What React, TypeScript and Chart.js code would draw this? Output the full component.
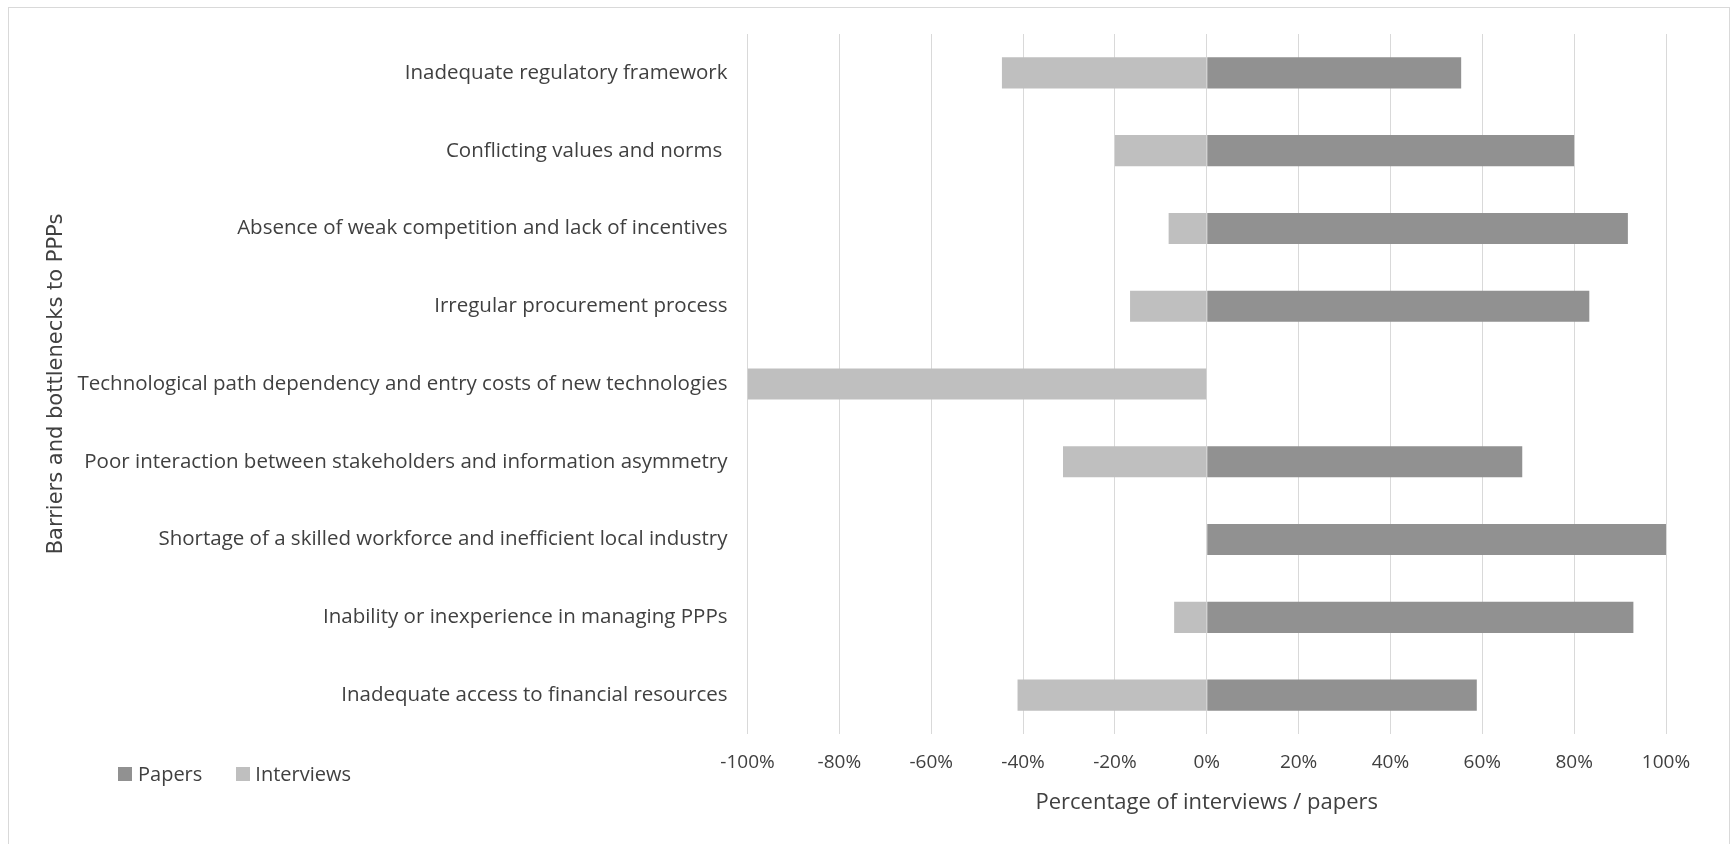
import React, { useEffect, useRef } from "react";
import { Chart, registerables } from "chart.js";

Chart.register(...registerables);

const categories = [
  "Inadequate regulatory framework",
  "Conflicting values and norms ",
  "Absence of weak competition and lack of incentives",
  "Irregular procurement process",
  "Technological path dependency and entry costs of new technologies",
  "Poor interaction between stakeholders and information asymmetry",
  "Shortage of a skilled workforce and inefficient local industry",
  "Inability or inexperience in managing PPPs",
  "Inadequate access to financial resources",
];

const papers = [55.4, 80, 91.7, 83.3, 0, 68.7, 100, 92.9, 58.8];
const interviews = [-44.6, -20, -8.3, -16.7, -100, -31.3, 0, -7.1, -41.2];

const xTicks = [-100, -80, -60, -40, -20, 0, 20, 40, 60, 80, 100];

const PAPERS_COLOR = "#919191";
const INTERVIEWS_COLOR = "#bfbfbf";
const TEXT_COLOR = "#404040";
const LABEL_FONT = "'Open Sans', sans-serif";

export default function App() {
  const ref = useRef<HTMLCanvasElement | null>(null);

  useEffect(() => {
    document.body.style.margin = "0";
    const canvas = ref.current;
    if (!canvas) return;
    const chart = new Chart(canvas, {
      type: "bar",
      data: {
        labels: categories,
        datasets: [
          {
            label: "Papers",
            data: papers,
            backgroundColor: PAPERS_COLOR,
            stack: "s",
            categoryPercentage: 0.4,
            barPercentage: 1,
          },
          {
            label: "Interviews",
            data: interviews,
            backgroundColor: INTERVIEWS_COLOR,
            stack: "s",
            categoryPercentage: 0.4,
            barPercentage: 1,
          },
        ],
      },
      options: {
        indexAxis: "y",
        responsive: false,
        animation: false,
        layout: { padding: { top: 34, right: 66, left: 0, bottom: 0 } },
        plugins: {
          legend: { display: false },
          tooltip: { enabled: false },
        },
        scales: {
          x: {
            stacked: true,
            min: -100,
            max: 100,
            afterBuildTicks: (scale: any) => {
              scale.ticks = xTicks.map((v) => ({ value: v }));
            },
            afterFit: (scale: any) => {
              scale.height = 110;
            },
            grid: { color: "#d9d9d9", drawTicks: false, lineWidth: 1 },
            border: { display: false },
            ticks: {
              padding: 17,
              color: TEXT_COLOR,
              font: { family: LABEL_FONT, size: 19 },
              callback: (v: any) => `${v}%`,
              maxRotation: 0,
              autoSkip: false,
            },
            title: {
              display: true,
              text: "Percentage of interviews / papers",
              color: TEXT_COLOR,
              font: { family: LABEL_FONT, size: 22 },
              padding: { top: 0, bottom: 28 },
            },
          },
          y: {
            stacked: true,
            afterFit: (scale: any) => {
              scale.width = 747.5;
            },
            grid: { display: false, drawTicks: false },
            border: { display: false },
            ticks: {
              padding: 20,
              color: TEXT_COLOR,
              font: { family: LABEL_FONT, size: 20.5 },
              autoSkip: false,
            },
            title: {
              display: true,
              text: "Barriers and bottlenecks to PPPs",
              color: TEXT_COLOR,
              font: { family: "'DejaVu Sans', sans-serif", size: 21 },
              padding: { top: 44, bottom: 0 },
            },
          },
        },
      },
    });
    return () => chart.destroy();
  }, []);

  return (
    <div style={{ position: "relative", width: 1732, height: 844, background: "#fff", overflow: "hidden" }}>
      <canvas ref={ref} width={1732} height={844} style={{ display: "block" }} />
      <div
        style={{
          position: "absolute",
          left: 8,
          top: 7,
          width: 1720,
          height: 860,
          border: "1px solid #d9d9d9",
          pointerEvents: "none",
        }}
      />
      <div
        style={{
          position: "absolute",
          left: 118,
          top: 760,
          display: "flex",
          alignItems: "center",
          fontFamily: LABEL_FONT,
          fontSize: 20,
          color: TEXT_COLOR,
          lineHeight: "28px",
        }}
      >
        <span style={{ width: 14, height: 14, background: PAPERS_COLOR, display: "inline-block", marginRight: 6 }} />
        <span style={{ marginRight: 34 }}>Papers</span>
        <span style={{ width: 14, height: 14, background: INTERVIEWS_COLOR, display: "inline-block", marginRight: 5 }} />
        <span>Interviews</span>
      </div>
    </div>
  );
}
